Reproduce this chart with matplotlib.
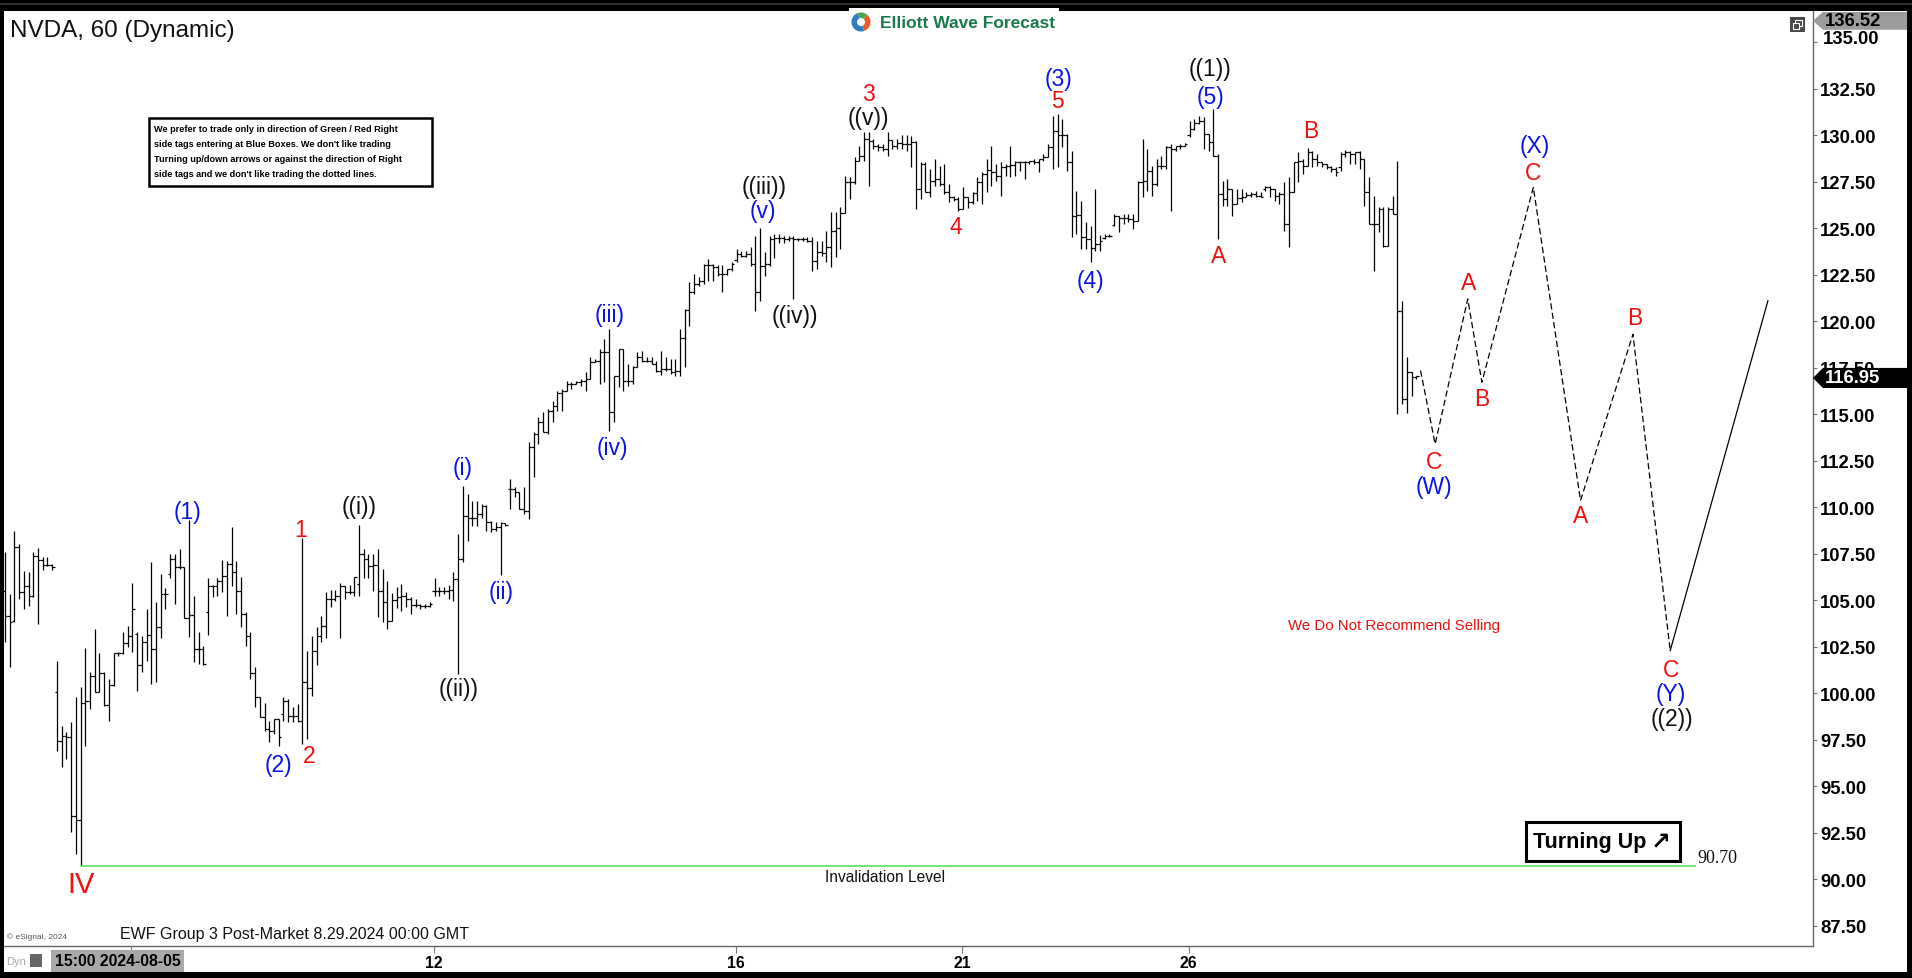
import matplotlib
matplotlib.use("Agg")
import numpy as np
import matplotlib.pyplot as plt
from matplotlib import font_manager
from matplotlib.collections import LineCollection
from matplotlib.patches import Rectangle, Polygon, Wedge, Circle

W, H = 1912, 979

# hourly bars, 16 per trading day (first row is the tail of Aug 2)
opens = [
    105.5, 104.14, 103.9, 107.85, 105.43, 105.75, 105.21, 107.36, 107.17, 106.92, 106.9,
    100.05, 97.45, 97.69, 97.65, 93.42, 93.21, 99.48, 99.6, 100.95, 100.09, 101.09, 99.37, 100.46, 102.17, 102.17, 102.7,
    103.1, 103.2, 101.52, 102.74, 103.13, 102.38, 103.55, 105.34, 106.4, 107.22, 106.77, 106.77, 104.05, 104.23, 102.38, 102.38,
    104.35, 105.75, 105.79, 106.06, 106.29, 106.95, 106.5, 105.52, 104.26, 103.06, 101.09, 99.78, 98.71, 98.08, 97.99, 98.62,
    98.9, 99.6, 98.8, 98.76, 98.53, 100.63, 100.27, 102.29, 103.1, 103.6, 105.07, 105.07, 105.25, 105.75, 105.43, 105.43,
    105.88, 107.49, 107.22, 106.86, 106.9, 105.52, 104.89, 103.9, 105.0, 105.2, 105.25, 105.07, 104.75, 104.75, 104.68, 104.68,
    105.5, 105.52, 105.52, 105.52, 105.57, 106.15, 107.22, 109.55, 109.41, 109.41, 109.64, 110.09, 109.23, 108.83, 108.92, 109.16,
    110.98, 110.98, 110.8, 109.91, 109.82, 113.22, 113.94, 114.6, 114.03, 115.2, 115.46, 116.15, 116.27, 116.63, 116.63, 116.72,
    116.81, 116.9, 117.79, 117.88, 118.33, 118.33, 115.11, 117.08, 118.51, 116.81, 116.81, 117.52, 118.06, 117.88, 117.88, 117.7,
    117.35, 117.44, 117.44, 117.26, 117.35, 119.08, 120.63, 121.59, 122.0, 122.18, 123.03, 123.03, 122.9, 122.54, 122.54, 122.81,
    123.3, 123.62, 123.53, 123.62, 123.08, 121.56, 122.99, 123.08, 124.4, 124.5, 124.5, 124.4, 124.5, 124.4, 124.4, 124.42,
    124.33, 123.26, 123.71, 123.67, 123.98, 124.87, 124.99, 125.82, 127.47, 127.51, 128.64, 128.91, 129.8, 129.71, 129.44, 129.35,
    129.26, 129.77, 129.44, 129.59, 129.53, 129.53, 129.62, 127.11, 128.46, 126.97, 127.56, 127.65, 127.38, 126.93, 126.67, 126.58,
    126.04, 126.67, 126.4, 126.9, 127.47, 127.92, 128.15, 128.01, 127.83, 128.28, 128.37, 128.4, 128.55, 128.55, 128.55, 128.64,
    128.55, 128.73, 128.82, 129.35, 130.25, 130.02, 130.02, 128.55, 125.68, 125.72, 124.51, 124.42, 123.92, 124.15, 124.45, 124.6,
    125.2, 125.68, 125.54, 125.54, 125.5, 125.41, 127.47, 127.56, 128.1, 127.38, 128.37, 128.37, 129.35, 129.26, 129.41, 129.44,
    130.0, 130.34, 130.66, 130.79, 130.07, 129.62, 128.91, 126.84, 126.58, 127.11, 126.31, 126.61, 126.67, 126.79, 126.84, 126.76,
    127.1, 127.2, 127.11, 126.76, 126.84, 125.23, 126.93, 128.55, 128.64, 128.37, 129.08, 128.73, 128.55, 128.46, 128.28, 128.19,
    128.3, 128.99, 129.08, 128.99, 129.08, 128.73, 126.93, 125.23, 125.23, 126.04, 124.07, 126.04, 125.77, 120.57, 115.8, 117.26, 117.0,
]
highs = [
    107.58, 105.34, 108.74, 108.03, 106.59, 106.54, 107.58, 107.79, 107.31, 107.31, 106.95,
    101.72, 98.26, 97.9, 98.47, 99.78, 100.32, 102.42, 101.13, 103.46, 102.17, 101.13, 100.77, 102.17, 102.2, 103.28, 103.64,
    105.93, 103.28, 103.06, 104.53, 107.08, 104.89, 106.41, 105.64, 107.49, 107.49, 107.76, 106.8, 109.33, 105.25, 103.28, 102.56,
    106.18, 105.82, 106.18, 107.18, 107.13, 108.92, 107.13, 106.23, 104.35, 103.28, 101.4, 99.78, 99.48, 98.53, 98.62, 98.62,
    99.78, 99.69, 99.25, 99.42, 108.33, 102.29, 103.06, 103.55, 104.17, 105.46, 105.57, 105.57, 105.93, 105.75, 105.82, 106.23,
    109.05, 107.76, 107.49, 107.49, 107.76, 106.68, 106.06, 105.4, 105.7, 105.88, 105.43, 105.16, 105.07, 104.8, 104.8, 104.89,
    106.18, 105.7, 105.7, 105.82, 106.54, 108.56, 111.13, 110.71, 110.36, 110.36, 110.18, 110.12, 109.28, 109.19, 109.23, 109.16,
    111.52, 111.07, 110.8, 111.07, 113.49, 114.07, 114.84, 115.11, 115.29, 115.73, 116.27, 116.36, 116.81, 116.72, 116.81, 116.9,
    117.26, 118.06, 117.97, 118.51, 119.05, 119.59, 117.08, 118.51, 118.51, 117.7, 117.61, 118.33, 118.42, 118.06, 118.06, 117.88,
    118.42, 118.06, 117.97, 117.97, 119.59, 120.66, 122.09, 122.54, 122.36, 123.08, 123.35, 123.08, 123.0, 123.0, 122.81, 123.17,
    123.9, 123.8, 123.8, 124.0, 124.6, 125.0, 123.71, 124.6, 124.7, 124.7, 124.6, 124.6, 124.6, 124.5, 124.51, 124.51,
    124.51, 124.33, 124.33, 124.87, 125.86, 125.86, 126.13, 127.83, 127.74, 128.82, 129.44, 130.16, 130.16, 129.8, 129.53, 129.53,
    130.16, 129.77, 129.8, 130.02, 130.02, 129.94, 129.71, 128.55, 128.55, 128.19, 128.73, 128.37, 128.46, 127.38, 126.76, 126.67,
    127.2, 126.67, 126.93, 127.74, 128.01, 128.73, 129.44, 128.46, 128.55, 128.46, 129.44, 128.64, 128.64, 128.64, 128.64, 128.73,
    128.73, 128.99, 129.53, 131.06, 131.15, 130.88, 130.07, 129.17, 127.02, 126.49, 125.32, 125.14, 127.11, 124.64, 124.69, 124.69,
    125.77, 125.68, 125.77, 125.77, 125.77, 127.56, 129.8, 129.26, 128.37, 128.73, 128.91, 129.44, 129.53, 129.44, 129.53, 129.57,
    130.79, 130.88, 131.06, 130.97, 130.07, 131.41, 128.99, 127.56, 127.65, 127.11, 127.11, 127.11, 126.93, 126.97, 127.02, 126.93,
    127.29, 127.29, 127.11, 126.93, 127.47, 127.74, 128.55, 129.08, 128.73, 129.3, 129.17, 128.99, 128.58, 128.46, 128.37, 128.28,
    129.12, 129.23, 129.17, 129.12, 129.17, 128.73, 127.74, 126.75, 126.13, 126.13, 126.13, 126.75, 128.64, 121.11, 118.06, 117.26, 117.08,
]
lows = [
    102.74, 101.4, 103.81, 105.07, 104.53, 104.71, 105.16, 103.73, 106.65, 106.86, 106.65,
    96.92, 96.02, 96.47, 92.56, 91.36, 90.70, 97.18, 99.16, 100.05, 100.05, 99.3, 98.53, 100.4, 102.02, 102.1, 102.47,
    102.2, 100.14, 101.16, 101.75, 100.5, 100.59, 102.95, 104.53, 106.18, 104.8, 106.68, 104.03, 103.01, 101.67, 101.58, 101.52,
    103.13, 105.16, 105.25, 105.43, 104.14, 105.79, 104.26, 103.55, 102.56, 100.77, 99.25, 98.71, 97.99, 97.4, 97.81, 97.15,
    98.53, 98.44, 98.47, 98.44, 97.27, 97.54, 99.87, 101.52, 102.74, 102.95, 104.62, 104.98, 102.95, 105.07, 105.34, 105.25,
    105.25, 106.18, 106.18, 105.52, 104.08, 103.81, 103.46, 103.9, 104.6, 104.44, 104.62, 104.26, 104.62, 104.53, 104.57, 104.62,
    105.25, 105.25, 105.34, 105.07, 104.98, 101.04, 107.04, 108.21, 108.98, 109.01, 109.41, 108.74, 108.69, 108.74, 106.36, 108.98,
    109.91, 110.54, 109.91, 109.64, 109.37, 111.61, 113.4, 114.03, 113.94, 114.57, 115.2, 115.2, 116.27, 116.36, 116.63, 116.54,
    116.27, 116.9, 117.79, 116.6, 116.72, 114.12, 114.57, 116.45, 116.27, 116.54, 116.63, 117.52, 117.79, 117.79, 117.7, 117.29,
    117.11, 117.35, 117.17, 117.08, 117.08, 117.52, 119.76, 121.47, 121.92, 122.0, 122.18, 122.18, 122.45, 121.56, 122.49, 122.72,
    123.17, 123.44, 123.44, 122.99, 120.57, 121.11, 122.45, 122.99, 123.4, 124.2, 124.2, 124.3, 121.2, 124.3, 124.33, 124.24,
    122.72, 122.81, 123.53, 123.17, 122.9, 123.44, 123.89, 125.82, 126.58, 127.38, 128.64, 128.64, 127.29, 129.26, 129.17, 129.17,
    128.91, 129.26, 129.26, 129.26, 129.17, 128.28, 126.04, 126.58, 126.93, 126.67, 127.29, 127.29, 126.84, 126.4, 126.49, 125.95,
    126.04, 126.08, 126.31, 126.49, 126.31, 126.93, 127.29, 127.56, 126.76, 127.83, 127.74, 127.83, 128.1, 127.65, 128.46, 128.46,
    128.01, 128.64, 128.82, 128.19, 128.28, 129.35, 128.1, 124.51, 124.69, 123.89, 123.89, 123.17, 123.8, 123.8, 124.42, 124.51,
    125.14, 124.78, 125.23, 125.32, 124.96, 125.41, 126.67, 127.02, 126.76, 127.29, 128.19, 128.19, 125.95, 129.17, 129.26, 129.44,
    129.89, 130.3, 130.61, 129.26, 129.17, 128.9, 124.42, 126.22, 126.22, 125.68, 126.31, 126.4, 126.67, 126.67, 126.67, 126.67,
    127.02, 126.67, 126.49, 126.31, 124.87, 123.98, 126.93, 127.47, 127.92, 128.37, 128.28, 128.37, 128.28, 128.19, 128.01, 127.83,
    128.1, 128.82, 128.46, 128.46, 128.19, 126.22, 125.23, 122.72, 124.78, 123.98, 124.07, 125.77, 115.02, 115.55, 115.07, 116.0, 116.9,
]
closes = [
    104.14, 103.85, 107.85, 105.43, 105.75, 105.21, 107.36, 107.17, 106.92, 106.9, 106.77,
    97.45, 97.69, 97.65, 93.42, 93.21, 99.48, 99.6, 100.95, 100.09, 101.09, 99.37, 100.46, 102.17, 102.17, 102.7, 103.1,
    104.53, 101.52, 102.74, 103.13, 102.38, 103.55, 105.34, 105.34, 107.22, 106.77, 106.77, 104.05, 104.23, 102.38, 102.38, 101.58,
    105.75, 105.79, 106.06, 106.29, 106.95, 106.5, 105.52, 104.26, 103.06, 101.09, 99.78, 98.71, 98.08, 97.99, 98.62, 97.63,
    99.6, 98.8, 98.76, 98.53, 100.63, 100.27, 102.29, 103.1, 103.6, 105.07, 105.07, 105.25, 105.75, 105.43, 105.43, 106.23,
    107.49, 107.22, 106.86, 106.9, 105.52, 104.89, 103.9, 105.0, 105.2, 105.25, 105.07, 104.75, 104.75, 104.68, 104.68, 104.8,
    105.52, 105.52, 105.52, 105.57, 106.15, 107.22, 109.55, 109.41, 109.41, 109.64, 110.09, 109.23, 108.83, 108.92, 109.16, 109.05,
    110.98, 110.8, 109.91, 109.82, 113.22, 113.94, 114.6, 114.03, 115.2, 115.46, 116.15, 116.27, 116.63, 116.63, 116.72, 116.81,
    116.9, 117.79, 117.88, 118.33, 118.33, 115.11, 117.08, 118.51, 116.81, 116.81, 117.52, 118.06, 117.88, 117.88, 117.7, 117.35,
    117.44, 117.44, 117.26, 117.35, 119.08, 120.63, 121.59, 122.0, 122.18, 123.03, 123.03, 122.9, 122.54, 122.54, 122.81, 123.08,
    123.62, 123.53, 123.62, 123.08, 121.56, 122.99, 123.08, 124.4, 124.5, 124.5, 124.4, 124.5, 124.4, 124.4, 124.42, 124.33,
    123.26, 123.71, 123.67, 123.98, 124.87, 124.99, 125.82, 127.47, 127.51, 128.64, 128.91, 129.8, 129.71, 129.44, 129.35, 129.26,
    129.77, 129.44, 129.59, 129.53, 129.53, 129.62, 127.11, 128.46, 126.97, 127.56, 127.65, 127.38, 126.93, 126.67, 126.58, 126.04,
    126.67, 126.4, 126.9, 127.47, 127.92, 128.15, 128.01, 127.83, 128.28, 128.37, 128.4, 128.55, 128.55, 128.55, 128.64, 128.55,
    128.73, 128.82, 129.35, 130.25, 130.02, 130.02, 128.55, 125.68, 125.72, 124.51, 124.42, 123.92, 124.15, 124.33, 124.6, 124.6,
    125.68, 125.54, 125.54, 125.5, 125.41, 127.47, 127.56, 128.1, 127.38, 128.37, 128.37, 129.35, 129.26, 129.41, 129.44, 129.53,
    130.34, 130.66, 130.79, 130.07, 129.62, 128.91, 126.84, 126.58, 127.11, 126.31, 126.61, 126.67, 126.79, 126.84, 126.76, 126.67,
    127.2, 127.11, 126.76, 126.84, 125.23, 126.93, 128.55, 128.64, 128.37, 129.08, 128.73, 128.55, 128.46, 128.28, 128.19, 128.01,
    128.99, 129.08, 128.99, 129.08, 128.73, 126.93, 125.23, 125.23, 126.04, 124.07, 126.04, 125.77, 120.57, 115.8, 117.26, 116.99, 117.04,
]
assert len(opens) == len(highs) == len(lows) == len(closes)

# day separators (bar index) and their labels
day_ticks = [26.8, 90.8, 154.8, 202.8, 250.8]
day_labels = ["", "12", "16", "21", "26"]
price_ticks = [87.5, 90.0, 92.5, 95.0, 97.5, 100.0, 102.5, 105.0, 107.5, 110.0,
               112.5, 115.0, 117.5, 120.0, 122.5, 125.0, 127.5, 130.0, 132.5, 135.0]

# projected path (bar index, price)
path_x = [299.9, 303.0, 309.9, 312.9, 323.8, 333.8, 344.9, 352.8]
path_y = [117.35, 113.4, 121.2, 116.72, 127.2, 110.36, 119.3, 102.29]
rally_x = [352.8, 373.5]
rally_y = [102.29, 121.1]

invalidation = 90.70
inval_x = [16.1, 358.1]
last_price = 116.95
top_price = 136.52

wave_text = ["IV", "(1)", "(2)", "1", "2", "((i))", "((ii))", "(i)", "(ii)", "(iii)", "(iv)",
             "((iii))", "(v)", "((iv))", "3", "((v))", "4", "(3)", "5", "(4)", "((1))", "(5)",
             "A", "B", "C", "(W)", "A", "B", "(X)", "C", "A", "B", "C", "(Y)", "((2))"]
wave_x = [16.2, 38.7, 58.0, 62.6, 64.4, 75.0, 96.2, 97.0, 105.1, 128.0, 128.7,
          160.9, 160.6, 167.3, 182.9, 182.9, 201.5, 223.1, 223.0, 230.0, 255.4, 255.4,
          257.1, 276.6, 302.8, 302.8, 310.0, 312.9, 324.0, 323.8, 333.8, 345.2, 353.0, 353.0, 353.2]
wave_y = [89.72, 109.76, 96.15, 108.8, 96.66, 110.03, 100.23, 112.13, 105.46, 120.35, 113.22,
          127.25, 125.94, 120.3, 132.23, 130.95, 125.07, 133.07, 131.85, 122.19, 133.57, 132.1,
          123.53, 130.24, 112.45, 111.1, 122.08, 115.85, 129.46, 128.0, 109.54, 120.22, 101.3, 100.0, 98.63]
wave_color = ["r", "b", "b", "r", "r", "k", "k", "b", "b", "b", "b",
              "k", "b", "k", "r", "k", "r", "b", "r", "b", "k", "b",
              "r", "r", "r", "b", "r", "r", "b", "r", "r", "r", "r", "b", "k"]
COLORS = {"r": "#f01010", "b": "#0a14e6", "k": "#111111"}

disclaimer = [
    "We prefer to trade only in direction of Green / Red Right",
    "side tags entering at Blue Boxes. We don't like trading",
    "Turning up/down arrows or against the direction of Right",
    "side tags and we don't like trading the dotted lines.",
]

installed = {f.name for f in font_manager.fontManager.ttflist}
HAS_NARROW = "Liberation Sans Narrow" in installed
NARROW = "Liberation Sans Narrow" if HAS_NARROW else "Liberation Sans"
nscale = 1.0 if HAS_NARROW else 0.82
plt.rcParams["font.family"] = ["Liberation Sans", "DejaVu Sans"]


def fx(x):
    return x / W


def fy(y):
    return 1 - y / H


def box(x0, y0, x1, y1, **kw):
    return Rectangle((fx(x0), fy(y1)), (x1 - x0) / W, (y1 - y0) / H,
                     transform=fig.transFigure, **kw)


fig = plt.figure(figsize=(W / 100, H / 100), dpi=100)
fig.patch.set_facecolor("black")
fig.add_artist(box(4, 12, 1907, 973, facecolor="white", edgecolor="none", zorder=-1))
fig.add_artist(plt.Line2D([0, 1], [fy(5), fy(5)], transform=fig.transFigure,
                          color="#3c3c3c", lw=1.2))

ax = fig.add_axes([fx(4), 32 / H, 1809 / W, 935 / H])
ax.set_facecolor("white")
ax.set_xlim(-0.21, 383.05)
ax.set_ylim(86.41, 136.68)
for side in ("left", "top"):
    ax.spines[side].set_visible(False)
for side in ("right", "bottom"):
    ax.spines[side].set_color("#666666")
    ax.spines[side].set_linewidth(1.0)

# OHLC bars
segs = []
for i, (o, h, l, c) in enumerate(zip(opens, highs, lows, closes)):
    segs.append([(i, l), (i, h)])
    segs.append([(i - 0.5, o), (i, o)])
    segs.append([(i, c), (i + 0.5, c)])
ax.add_collection(LineCollection(segs, colors="black", linewidths=0.9))

# projection
ax.plot(path_x, path_y, color="black", lw=0.9, dashes=(5, 2.6))
ax.plot(rally_x, rally_y, color="black", lw=0.9)
ax.plot(inval_x, [invalidation, invalidation], color="#5fe05f", lw=1.2)

for s, x, y, c in zip(wave_text, wave_x, wave_y, wave_color):
    size = 21 if s == "IV" else 16.5
    ax.text(x, y, s, color=COLORS[c], fontsize=size, ha="center", va="center")

ax.text(294.2, 103.66, "We Do Not Recommend Selling", color="#e81010",
        fontsize=13.2 * nscale, family=NARROW, ha="center", va="center")
ax.text(186.4, 90.12, "Invalidation Level", color="#111111", fontsize=11.2,
        ha="center", va="center")
ax.text(358.6, 91.15, "90.70", color="#111111", fontsize=13, family="Liberation Serif",
        ha="left", va="center")

# axes ticks
ax.yaxis.tick_right()
ax.set_yticks(price_ticks, labels=["%.2f" % p if p < 135 else "" for p in price_ticks],
              fontweight="bold", fontsize=13.3)
ax.tick_params(axis="y", direction="out", length=3, width=0.8, color="#777777", pad=2)
ax.set_xticks(day_ticks, labels=day_labels, fontweight="bold", fontsize=14 * nscale,
              family=NARROW)
ax.tick_params(axis="x", direction="out", length=5, width=0.8, color="#777777", pad=1.5)

yax = ax.get_yaxis_transform()
ax.text(1.0055, 135.22, "135.00", transform=yax, fontsize=13.3, fontweight="bold",
        ha="left", va="center", clip_on=False, zorder=4)

# price tags on the right scale
for price, half, face, txt in [(136.15, 0.48, "#9c9c9c", "black"),
                               (last_price, 0.54, "black", "white")]:
    ax.add_patch(Polygon([(1.0, price), (1.0055, price + half), (1.052, price + half),
                          (1.052, price - half), (1.0055, price - half)],
                         closed=True, transform=yax, facecolor=face, edgecolor="none",
                         clip_on=False, zorder=5))
    label = "%.2f" % (top_price if face != "black" else last_price)
    ax.text(1.0068, price, label, transform=yax, color=txt, fontsize=13.3,
            fontweight="bold", ha="left", va="center", clip_on=False, zorder=6)

# title and header
fig.text(fx(10), fy(31), "NVDA, 60 (Dynamic)", fontsize=17.5, va="center", color="#111111")
fig.add_artist(box(849, 9, 1059, 36, facecolor="white", edgecolor="none", zorder=2))
fig.text(fx(880), fy(23), "Elliott Wave Forecast", color="#187a4c", fontsize=12.5,
         fontweight="bold", va="center")
logo = fig.add_axes([fx(851), fy(33), 20 / W, 20 / H])
logo.set_zorder(4)
logo.set_aspect("equal")
logo.set_xlim(-1.05, 1.05)
logo.set_ylim(-1.05, 1.05)
logo.axis("off")
logo.add_patch(Wedge((0, 0), 1, 110, 290, facecolor="#2f7fc4"))
logo.add_patch(Wedge((0, 0), 1, -70, 50, facecolor="#ec5a28"))
logo.add_patch(Wedge((0, 0), 1, 50, 110, facecolor="#4aa84a"))
logo.add_patch(Circle((0, 0), 0.42, facecolor="white"))

fig.add_artist(box(1790, 18, 1805, 33, facecolor="#4a4a4a", edgecolor="none", zorder=5))
fig.add_artist(box(1795, 21, 1802, 27, facecolor="none", edgecolor="white", lw=0.8, zorder=6))
fig.add_artist(box(1793, 24, 1799, 30, facecolor="#4a4a4a", edgecolor="white", lw=0.8, zorder=6))

# disclaimer note
fig.add_artist(box(149, 119, 432, 187, facecolor="white", edgecolor="black", lw=1.8, zorder=5))
for k, line in enumerate(disclaimer):
    fig.text(fx(154), fy(130 + 14.8 * k), line, fontsize=8.0 * nscale, family=NARROW,
             fontweight="bold", va="center", zorder=6)

# turning up tag
fig.add_artist(box(1526, 823, 1680, 862, facecolor="white", edgecolor="black", lw=2.2, zorder=5))
fig.text(fx(1533), fy(843), "Turning Up", fontsize=15.5, fontweight="bold",
         va="center", zorder=6)
fig.text(fx(1651), fy(842), "\u2197", family="DejaVu Sans", fontsize=17,
         fontweight="bold", va="center", zorder=6)

# footer
fig.text(fx(7), fy(937), "\u00a9 eSignal, 2024", fontsize=6, color="#555555", va="center")
fig.text(fx(120), fy(935), "EWF Group 3 Post-Market 8.29.2024 00:00 GMT", fontsize=11.5,
         color="#111111", va="center")
fig.text(fx(6), fy(962), "Dyn", fontsize=8, color="#aaaaaa", va="center")
fig.add_artist(box(30, 955, 42, 968, facecolor="#666666", edgecolor="none", zorder=5))
fig.text(fx(55), fy(962), "15:00 2024-08-05", fontsize=14 * nscale, family=NARROW,
         fontweight="bold", va="center",
         bbox=dict(facecolor="#a9a9a9", edgecolor="none", pad=2.5))

fig.savefig("out.png", dpi=100, facecolor=fig.get_facecolor())
